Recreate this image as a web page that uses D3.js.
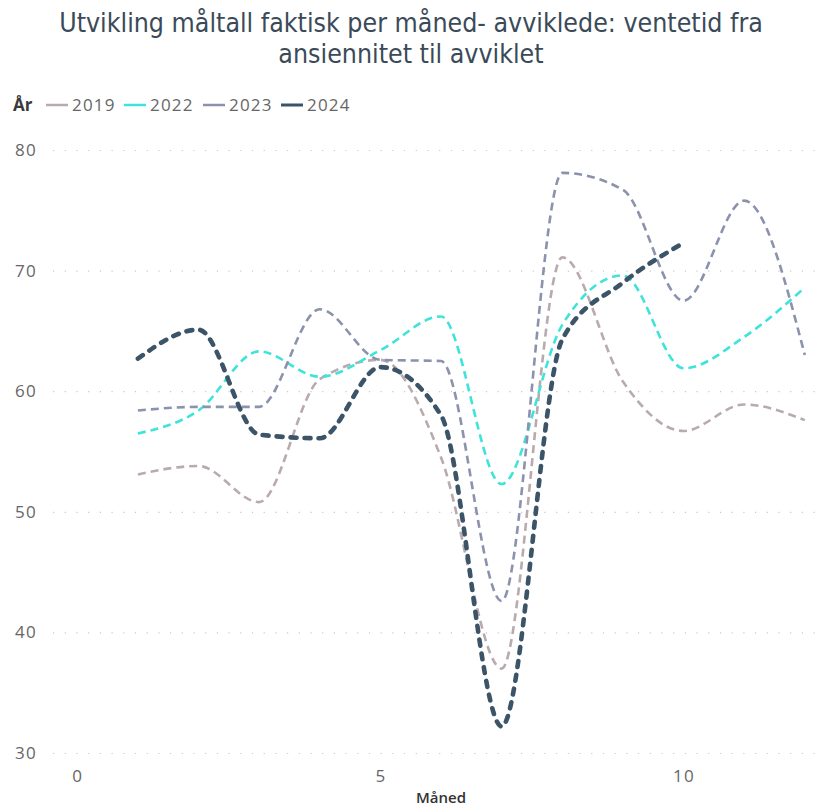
<!DOCTYPE html>
<html>
<head>
<meta charset="utf-8">
<script src="https://cdn.jsdelivr.net/npm/d3@7"></script>
<style>
  html, body { margin: 0; padding: 0; background: #ffffff; }
  svg { display: block; }
</style>
</head>
<body>
<svg id="chart" width="823" height="808"></svg>
<script>
const months = [1, 2, 3, 4, 5, 6, 7, 8, 9, 10, 11, 12];
const years = ["2019", "2022", "2023", "2024"];
const values2019 = [53.1, 53.8, 50.8, 61.0, 62.6, 54.5, 37.0, 71.1, 60.8, 56.7, 58.9, 57.6];
const values2022 = [56.5, 58.4, 63.3, 61.2, 63.4, 66.2, 52.3, 65.5, 69.6, 61.9, 64.5, 68.6];
const values2023 = [58.4, 58.7, 58.7, 66.8, 62.6, 62.5, 42.6, 78.1, 76.7, 67.5, 75.8, 63.0];
const values2024 = [62.7, 65.1, 56.4, 56.1, 62.0, 58.0, 32.2, 64.3, 69.0, 72.3];
const yTicks = [30, 40, 50, 60, 70, 80];
const xTicks = [0, 5, 10];
const titleLines = ["Utvikling måltall faktisk per måned- avviklede: ventetid fra", "ansiennitet til avviklet"];
const legendTitle = "År";
const xAxisTitle = "Måned";

const seriesValues = [values2019, values2022, values2023, values2024];
const colors = ["#b9aaae", "#3ee3da", "#8b92ad", "#3b5468"];
const widths = [2.6, 2.6, 2.6, 4.6];
const dashes = ["8,5", "8,5", "8,5", "6,8"];

const svg = d3.select("#chart");
const x = d3.scaleLinear().domain([-0.4, 12.3]).range([53, 823]);
const y = d3.scaleLinear().domain([30, 80]).range([753, 150]);

const labelFont = "'Open Sans', 'Noto Sans', sans-serif";

// Title
const title = svg.append("g");
titleLines.forEach((t, i) => {
  title.append("text")
    .attr("x", 411).attr("y", 32 + i * 31)
    .attr("text-anchor", "middle")
    .attr("font-family", "'DejaVu Sans Condensed', 'DejaVu Sans', sans-serif")
    .attr("font-size", 26.5)
    .attr("fill", "#3b4a58")
    .text(t);
});

// Gridlines + y axis
const yAxis = d3.axisLeft(y).tickValues(yTicks).tickSize(-(823 - 53)).tickPadding(16);
const gy = svg.append("g").attr("transform", "translate(53,0)").call(yAxis);
gy.select(".domain").remove();
gy.selectAll(".tick line")
  .attr("stroke", "#c8c8c8").attr("stroke-width", 1.2)
  .attr("stroke-dasharray", "1.2,10.5");
gy.selectAll(".tick text")
  .attr("font-family", labelFont)
  .attr("font-size", 17).attr("letter-spacing", 1.3).attr("fill", "#666666");

const xAxis = d3.axisBottom(x).tickValues(xTicks).tickSize(0).tickPadding(9);
const gx = svg.append("g").attr("transform", "translate(0,761)").call(xAxis);
gx.select(".domain").remove();
gx.selectAll(".tick text")
  .attr("font-family", labelFont)
  .attr("font-size", 17).attr("letter-spacing", 1.3).attr("fill", "#666666");

svg.append("text")
  .attr("x", 441).attr("y", 803)
  .attr("text-anchor", "middle")
  .attr("font-family", labelFont)
  .attr("font-size", 15).attr("font-weight", 600)
  .attr("fill", "#333333")
  .text(xAxisTitle);

// Lines
const line = d3.line()
  .x((d, i) => x(months[i]))
  .y(d => y(d))
  .curve(d3.curveMonotoneX);

seriesValues.forEach((vals, k) => {
  svg.append("path")
    .datum(vals)
    .attr("d", line)
    .attr("fill", "none")
    .attr("stroke", colors[k])
    .attr("stroke-width", widths[k])
    .attr("stroke-dasharray", dashes[k])
    .attr("stroke-linecap", k === 3 ? "round" : "butt");
});

// Legend
const legend = svg.append("g");
legend.append("text")
  .attr("x", 13).attr("y", 111)
  .attr("font-family", labelFont)
  .attr("font-size", 17).attr("font-weight", 700)
  .attr("fill", "#3a3a3a")
  .text(legendTitle);
const legendX = [46, 124, 203, 281];
years.forEach((yr, k) => {
  legend.append("line")
    .attr("x1", legendX[k]).attr("x2", legendX[k] + 22)
    .attr("y1", 105).attr("y2", 105)
    .attr("stroke", colors[k]).attr("stroke-width", k === 3 ? 3 : 2.5);
  legend.append("text")
    .attr("x", legendX[k] + 26).attr("y", 111)
    .attr("font-family", labelFont)
    .attr("font-size", 17).attr("letter-spacing", 1.2)
    .attr("fill", "#666666")
    .text(yr);
});
</script>
</body>
</html>
